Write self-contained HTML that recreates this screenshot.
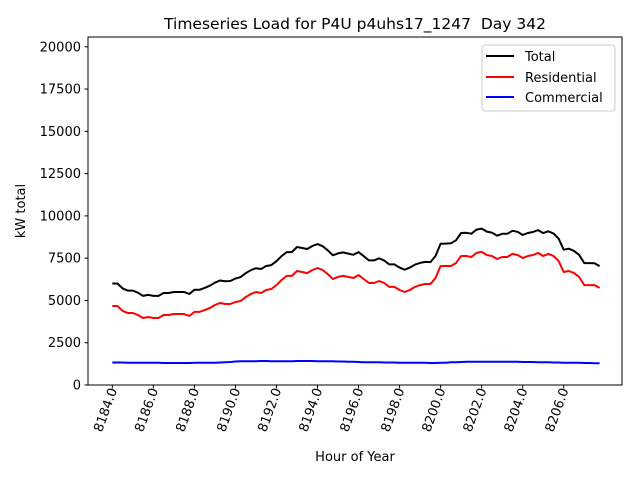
<!DOCTYPE html>
<html><head><meta charset="utf-8"><style>
body{margin:0;background:#fff}
svg{font-family:"DejaVu Sans","Liberation Sans",sans-serif}
</style></head><body>
<svg id="c" width="640" height="480" viewBox="0 0 640 480"></svg>
<script>
const hours = [];
for (let i = 0; i < 96; i++) hours.push(8184 + i * 0.25);
const residential = [4670,4670,4380,4260,4260,4140,3960,4020,3960,3960,4140,4140,4200,4200,4200,4080,
4320,4320,4430,4550,4730,4850,4790,4790,4910,4970,5200,5380,5500,5440,5620,5680,
5910,6210,6450,6450,6740,6680,6620,6800,6920,6800,6560,6270,6390,6450,6390,6330,
6500,6270,6030,6030,6150,6030,5800,5800,5620,5500,5620,5800,5910,5970,5970,6330,
7040,7040,7040,7210,7630,7630,7570,7810,7870,7690,7630,7450,7570,7570,7750,7690,
7510,7630,7690,7810,7630,7750,7630,7330,6680,6740,6620,6390,5910,5910,5910,5740];
const commercial = [1330,1330,1330,1320,1320,1320,1310,1310,1310,1310,1300,1300,1300,1300,1300,1300,
1310,1310,1310,1320,1320,1330,1340,1360,1390,1410,1410,1410,1410,1420,1420,1410,
1410,1410,1410,1410,1420,1420,1420,1420,1410,1410,1400,1400,1390,1390,1380,1370,
1360,1350,1340,1340,1340,1330,1330,1330,1320,1320,1320,1320,1310,1310,1300,1300,
1310,1320,1340,1350,1360,1370,1380,1380,1380,1380,1380,1380,1370,1370,1370,1370,
1360,1360,1360,1350,1350,1340,1330,1330,1320,1320,1310,1310,1300,1300,1290,1290];
const total = residential.map((r, i) => r + commercial[i]);
const yTicks = [0,2500,5000,7500,10000,12500,15000,17500,20000];
const xTicks = [8184,8186,8188,8190,8192,8194,8196,8198,8200,8202,8204,8206];

const L=88,R=622,T=37,B=385;
const xS=h=>112.3+(h-8184)*20.52;
const yS=v=>B-v*(B-46.8)/20000;
const svg=document.getElementById('c');
const NS='http://www.w3.org/2000/svg';
function mk(tag,attrs,parent){const e=document.createElementNS(NS,tag);for(const k in attrs)e.setAttribute(k,attrs[k]);(parent||svg).appendChild(e);return e;}

const title=mk('text',{x:355,y:29,'text-anchor':'middle','font-size':15.5});


title.textContent='Timeseries Load for P4U p4uhs17_1247\u00a0 Day 342';

function series(vals,color,name){
  const d=vals.map((v,i)=>(i?'L':'M')+xS(hours[i]).toFixed(1)+' '+yS(v).toFixed(1)).join(' ');
  const p=mk('path',{d:d,fill:'none',stroke:color,'stroke-width':2,'stroke-linejoin':'round'});
  
  
}
series(total,'#000','total-line');
series(residential,'#f00','residential-line');
series(commercial,'#00f','commercial-line');

const frame=mk('rect',{x:L,y:T,width:R-L,height:B-T,fill:'none',stroke:'#000','stroke-width':1});



yTicks.forEach(v=>{
  const y=yS(v);
  const t=mk('line',{x1:L-3.5,x2:L,y1:y,y2:y,stroke:'#000'});
  
  
  const l=mk('text',{x:L-7,y:y+4.5,'text-anchor':'end','font-size':13});
  
  
  l.textContent=v;
});
xTicks.forEach(h=>{
  const x=xS(h);
  const t=mk('line',{x1:x,x2:x,y1:B,y2:B+3.5,stroke:'#000'});
  
  
  const ax=x+5, ay=B+5;
  const l=mk('text',{x:ax,y:ay,'text-anchor':'end','font-size':13,transform:`rotate(-70 ${ax} ${ay})`});
  
  
  l.textContent=h.toFixed(1);
});
const xt=mk('text',{x:355,y:461,'text-anchor':'middle','font-size':13});


xt.textContent='Hour of Year';
const yt=mk('text',{x:25,y:211,'text-anchor':'middle','font-size':13,transform:'rotate(-90 25 211)'});


yt.textContent='kW total';

const lg=mk('g',{});


mk('rect',{x:482,y:45,width:133,height:66,rx:3,fill:'#fff',stroke:'#ccc'},lg);
[['Total','#000',56],['Residential','#f00',77],['Commercial','#00f',97]].forEach(([n,c,y])=>{
  const g=mk('g',{},lg);
  
  
  mk('line',{x1:486,x2:514,y1:y,y2:y,stroke:c,'stroke-width':2},g);
  const t=mk('text',{x:525,y:y+5,'font-size':13},g);
  t.textContent=n;
});
</script>
</body></html>
